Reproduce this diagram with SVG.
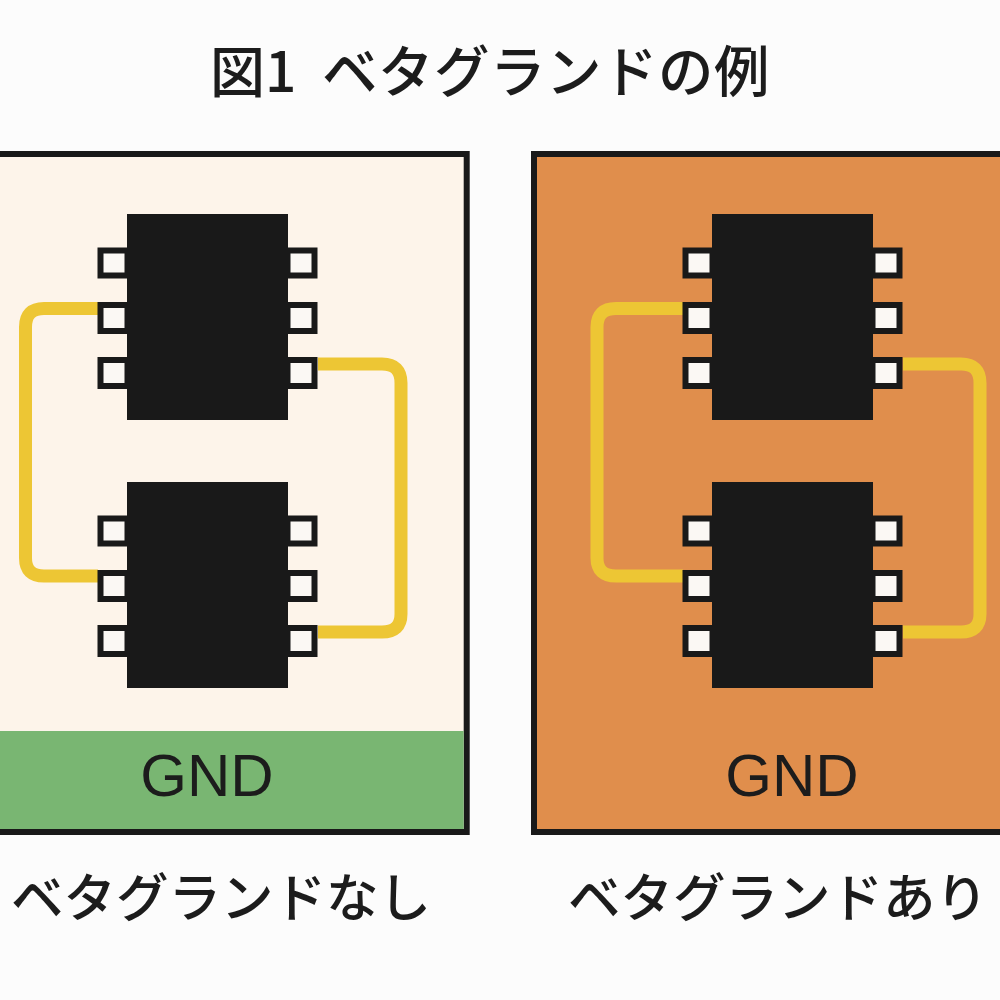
<svg xmlns="http://www.w3.org/2000/svg" width="1000" height="1000" viewBox="0 0 1000 1000">
<defs>
<style>
.t{font-family:"Noto Sans CJK JP","Noto Sans",sans-serif;fill:#1c1c1c;font-weight:500}
.g{font-family:"Liberation Sans",Arial,sans-serif;font-size:60px;fill:#1c1c1c;text-anchor:middle}
.chip{fill:#191919}
.pin{fill:#fbf8f4;stroke:#191919;stroke-width:6}
.w{fill:none;stroke:#edc634;stroke-width:13}
.b{stroke:#191919;stroke-width:6}
</style>
<g id="ic">
<rect class="pin" x="-26.500" y="36.500" width="27" height="25"/><rect class="pin" x="-26.500" y="91" width="27" height="26"/><rect class="pin" x="-26.500" y="146" width="27" height="26"/>
<rect class="pin" x="160.500" y="36.500" width="27" height="25"/><rect class="pin" x="160.500" y="91" width="27" height="26"/><rect class="pin" x="160.500" y="146" width="27" height="26"/>
<rect class="chip" x="0" y="0" width="161" height="206"/></g>
</defs>
<rect width="1000" height="1000" fill="#fcfcfc"/>
<text class="t" x="210" y="92" font-size="55">図1</text>
<text class="t" x="322" y="92" font-size="55.500" letter-spacing="0.500">ベタグランドの例</text>
<g id="left-board"><rect class="b" x="-10" y="154" width="476.700" height="678" fill="#fdf4ea"/>
<rect x="-10" y="731" width="473.700" height="98" fill="#79b672"/><text class="g" x="207" y="796">GND</text></g>
<g id="right-board"><rect class="b" x="534" y="154" width="480" height="678" fill="#e08e4c"/><text class="g" x="792" y="796">GND</text></g>
<g id="connectors">
<path class="w" d="M98 308.500H44Q25.500 308.500 25.500 327V558Q25.500 576 44 576H98"/>
<path class="w" d="M318 364H382Q401 364 401 383V614Q401 632 382 632H318"/>
<path class="w" d="M683 308.500H616Q597 308.500 597 327V558Q597 576 616 576H683"/>
<path class="w" d="M903 364H961Q980 364 980 383V614Q980 632 961 632H903"/>
</g>
<g id="chip-l1"><use href="#ic" x="127" y="214"/></g>
<g id="chip-l2"><use href="#ic" x="127" y="482"/></g>
<g id="chip-r1"><use href="#ic" x="712" y="214"/></g>
<g id="chip-r2"><use href="#ic" x="712" y="482"/></g>
<text class="t" x="221" y="917" font-size="52.500" text-anchor="middle">ベタグランドなし</text>
<text class="t" x="778" y="917" font-size="52.500" text-anchor="middle">ベタグランドあり</text>
</svg>
